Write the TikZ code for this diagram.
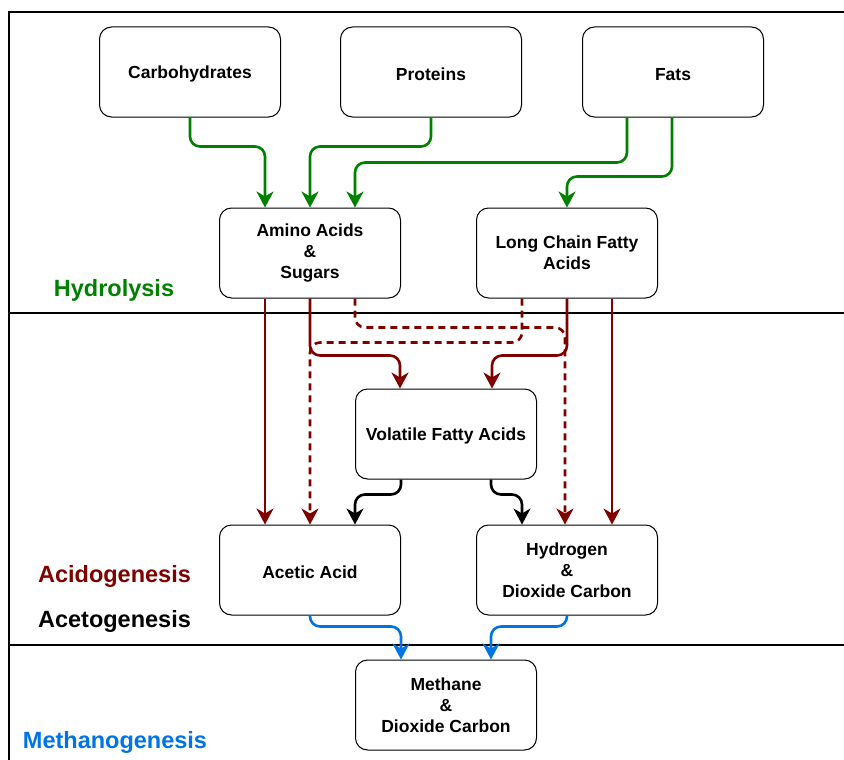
\documentclass[tikz,border=0pt]{standalone}
\usepackage{fontspec}
\setmainfont{Liberation Sans}
\usetikzlibrary{arrows.meta}
\definecolor{hgreen}{RGB}{0,128,0}
\definecolor{hred}{RGB}{128,0,0}
\definecolor{hblue}{RGB}{0,116,230}
\tikzset{
  box/.style={draw=black, line width=1pt, rounded corners=12pt, minimum width=181pt, minimum height=90pt,
    align=center, font=\fontsize{17.5}{21}\selectfont\bfseries, inner sep=2pt,
    execute at begin node={\rule{0pt}{17pt}}},
  phase/.style={font=\fontsize{23.5}{28}\selectfont\bfseries, inner sep=0pt},
  conn/.style={line width=2.6pt, rounded corners=10pt, -{Stealth[length=16pt,width=17pt,inset=5pt]}},
  gconn/.style={conn, draw=hgreen},
  rconn/.style={conn, draw=hred},
  rdash/.style={rconn, dash pattern=on 7pt off 5pt},
  kconn/.style={conn, draw=black},
  bconn/.style={conn, draw=hblue},
  frame/.style={line width=1.5pt, draw=black}
}
\begin{document}
\begin{tikzpicture}[x=1pt,y=-1pt]
\useasboundingbox (0,0) rectangle (844,760);
\fill[white] (0,0) rectangle (844,760);
% frame
\coordinate (ftl) at (9,12);
\coordinate (ftr) at (844,12);
\coordinate (fbl) at (9,760);
\coordinate (l1a) at (9,313);
\coordinate (l1b) at (844,313);
\coordinate (l2a) at (9,645);
\coordinate (l2b) at (844,645);
\draw[frame] (ftr) -- (ftl) -- (fbl);
\draw[frame] (l1a) -- (l1b);
\draw[frame] (l2a) -- (l2b);
% phase labels
\node[phase, text=hgreen] (hyd1) at (114,290) {Hydrolysis};
\node[phase, text=hred] (acid) at (114.5,576) {Acidogenesis};
\node[phase, text=black] (aceto) at (114.5,621) {Acetogenesis};
\node[phase, text=hblue] (metha) at (115,742) {Methanogenesis};
% nodes
\node[box] (carb) at (190,72) {Carbohydrates};
\node[box] (prot) at (431,72) {Proteins};
\node[box] (fats) at (673,72) {Fats};
\node[box] (amino) at (310,253) {Amino Acids\\\&\\Sugars};
\node[box] (lcfa) at (567,253) {Long Chain Fatty\\Acids};
\node[box] (vfa) at (446,434) {Volatile Fatty Acids};
\node[box] (acetic) at (310,570) {Acetic Acid};
\node[box] (hyd) at (567,570) {Hydrogen\\\&\\Dioxide Carbon};
\node[box] (meth) at (446,705) {Methane\\\&\\Dioxide Carbon};
% green connectors
\draw[gconn] (carb.south) -- ++(0,29) -| ([xshift=-45pt]amino.north);
\draw[gconn] (prot.south) -- ++(0,29) -| (amino.north);
\draw[gconn] ([xshift=-46pt]fats.south) -- ++(0,45) -| ([xshift=45pt]amino.north);
\draw[gconn] ([xshift=-1pt]fats.south) -- ++(0,59) -| (lcfa.north);
% red connectors
\draw[rconn] ([xshift=-45pt]amino.south) -- ([xshift=-45pt]acetic.north);
\draw[rconn] (amino.south) -- ++(0,57) -| ([xshift=-46pt]vfa.north);
\draw[rconn] (lcfa.south) -- ++(0,57) -| ([xshift=46pt]vfa.north);
\draw[rconn] ([xshift=45pt]lcfa.south) -- ([xshift=45pt]hyd.north);
\draw[rdash] ([xshift=45pt]amino.south) -- ++(0,29) -| ([xshift=-2pt]hyd.north);
\draw[rdash] ([xshift=-45pt]lcfa.south) -- ++(0,44) -| (acetic.north);
% black connectors
\draw[kconn] ([xshift=-45pt]vfa.south) -- ++(0,15) -| ([xshift=45pt]acetic.north);
\draw[kconn] ([xshift=45pt]vfa.south) -- ++(0,15) -| ([xshift=-45pt]hyd.north);
% blue connectors
\draw[bconn] (acetic.south) -- ++(0,11) -| ([xshift=-45pt]meth.north);
\draw[bconn] (hyd.south) -- ++(0,11) -| ([xshift=45pt]meth.north);
\end{tikzpicture}
\end{document}
